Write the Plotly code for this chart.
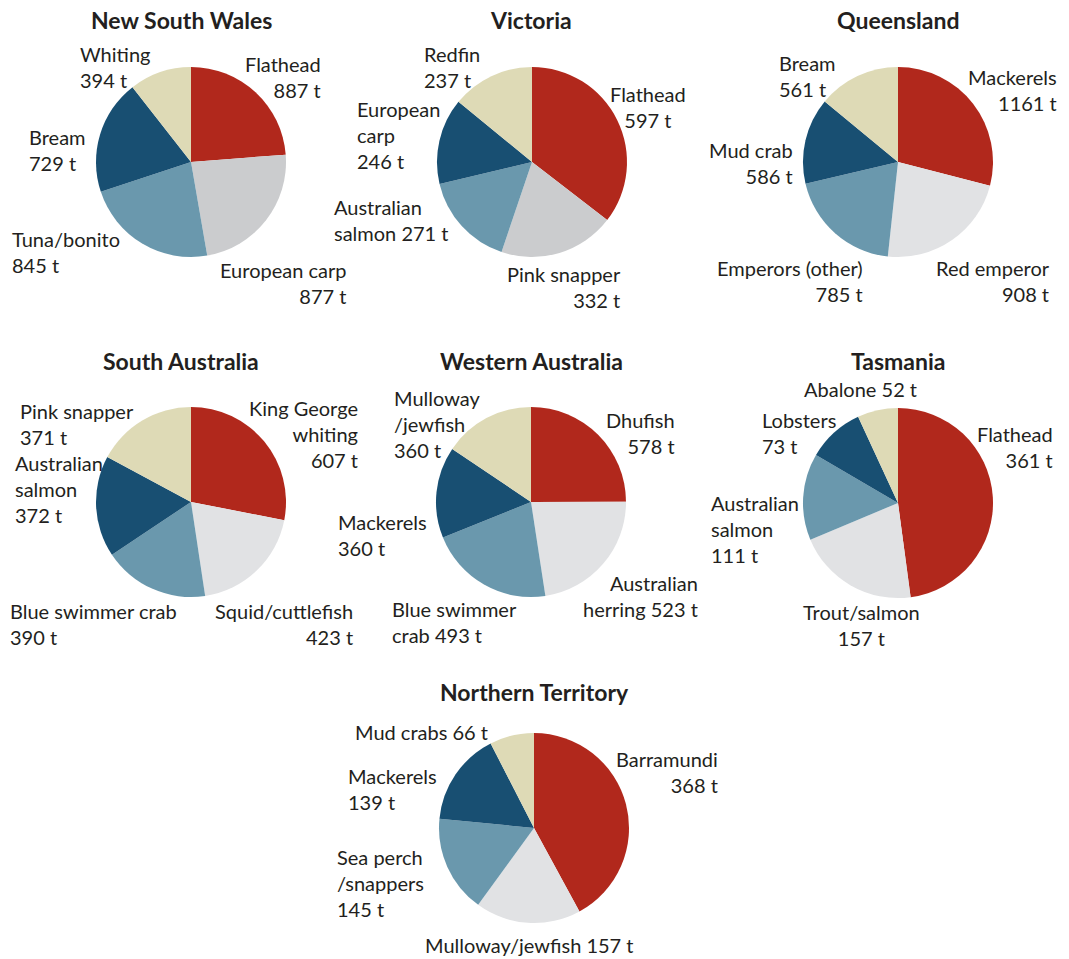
import plotly.graph_objects as go

W, H = 1069, 959

# ---------------- data ----------------
nsw_species = ["Flathead", "European carp", "Tuna/bonito", "Bream", "Whiting"]
nsw_tonnes = [887, 877, 845, 729, 394]

vic_species = ["Flathead", "Pink snapper", "Australian salmon", "European carp", "Redfin"]
vic_tonnes = [597, 332, 271, 246, 237]

qld_species = ["Mackerels", "Red emperor", "Emperors (other)", "Mud crab", "Bream"]
qld_tonnes = [1161, 908, 785, 586, 561]

sa_species = ["King George whiting", "Squid/cuttlefish", "Blue swimmer crab", "Australian salmon", "Pink snapper"]
sa_tonnes = [607, 423, 390, 372, 371]

wa_species = ["Dhufish", "Australian herring", "Blue swimmer crab", "Mackerels", "Mulloway/jewfish"]
wa_tonnes = [578, 523, 493, 360, 360]

tas_species = ["Flathead", "Trout/salmon", "Australian salmon", "Lobsters", "Abalone"]
tas_tonnes = [361, 157, 111, 73, 52]

nt_species = ["Barramundi", "Mulloway/jewfish", "Sea perch/snappers", "Mackerels", "Mud crabs"]
nt_tonnes = [368, 157, 145, 139, 66]

titles = ["New South Wales", "Victoria", "Queensland", "South Australia",
          "Western Australia", "Tasmania", "Northern Territory"]

# label display names (line-broken) and separator before value
nsw_disp = ["Flathead", "European carp", "Tuna/bonito", "Bream", "Whiting"]
nsw_sep = ["<br>"] * 5
vic_disp = ["Flathead", "Pink snapper", "Australian<br>salmon", "European<br>carp", "Redfin"]
vic_sep = ["<br>", "<br>", " ", "<br>", "<br>"]
qld_disp = ["Mackerels", "Red emperor", "Emperors (other)", "Mud crab", "Bream"]
qld_sep = ["<br>"] * 5
sa_disp = ["King George<br>whiting", "Squid/cuttlefish", "Blue swimmer crab", "Australian<br>salmon", "Pink snapper"]
sa_sep = ["<br>"] * 5
wa_disp = ["Dhufish", "Australian<br>herring", "Blue swimmer<br>crab", "Mackerels", "Mulloway<br>/jewfish"]
wa_sep = ["<br>", " ", " ", "<br>", "<br>"]
tas_disp = ["Flathead", "Trout/salmon", "Australian<br>salmon", "Lobsters", "Abalone"]
tas_sep = ["<br>", "<br>", "<br>", "<br>", " "]
nt_disp = ["Barramundi", "Mulloway/jewfish", "Sea perch<br>/snappers", "Mackerels", "Mud crabs"]
nt_sep = ["<br>", " ", "<br>", "<br>", " "]

# ---------------- layout / style ----------------
RED = "#B1281C"
GRAY_DARK = "#CBCCCE"
GRAY_LIGHT = "#E1E2E4"
STEEL = "#6A98AD"
NAVY = "#184F72"
BEIGE = "#DEDAB6"
TXT = "#231F20"
FONT = "Lato"
LABEL_SIZE = 20
TITLE_SIZE = 23

# pie centres (px) and radius
centres = [(191, 162), (532, 162), (898, 162), (191, 502), (531, 502), (898, 503), (534, 828)]
radius = 95
title_pos = [(181, 20), (531, 20), (898, 20), (181, 361), (531, 361), (898, 361), (534, 692)]
grays = [GRAY_DARK, GRAY_DARK, GRAY_LIGHT, GRAY_LIGHT, GRAY_LIGHT, GRAY_LIGHT, GRAY_LIGHT]

# label anchor per slice: (x px, y-centre px, align)
nsw_lab = [(323, 77, "right"), (348, 283, "right"), (10, 252, "left"), (27, 150, "left"), (78, 67, "left")]
vic_lab = [(648, 107, "center"), (623, 287, "right"), (332, 220, "left"), (355, 135, "left"), (422, 67, "left")]
qld_lab = [(1059, 90, "right"), (1052, 281, "right"), (865, 281, "right"), (795, 163, "right"), (777, 76, "left")]
sa_lab = [(360, 434, "right"), (355, 624, "right"), (8, 624, "left"), (13, 489, "left"), (18, 424, "left")]
wa_lab = [(677, 433, "right"), (700, 596, "right"), (390, 622, "left"), (336, 535, "left"), (392, 424, "left")]
tas_lab = [(1055, 447, "right"), (861, 625, "center"), (709, 529, "left"), (760, 433, "left"), (802, 389, "left")]
nt_lab = [(720, 772, "right"), (423, 945, "left"), (335, 883, "left"), (346, 789, "left"), (353, 732, "left")]

regions = [
    (nsw_species, nsw_tonnes, nsw_disp, nsw_sep, nsw_lab),
    (vic_species, vic_tonnes, vic_disp, vic_sep, vic_lab),
    (qld_species, qld_tonnes, qld_disp, qld_sep, qld_lab),
    (sa_species, sa_tonnes, sa_disp, sa_sep, sa_lab),
    (wa_species, wa_tonnes, wa_disp, wa_sep, wa_lab),
    (tas_species, tas_tonnes, tas_disp, tas_sep, tas_lab),
    (nt_species, nt_tonnes, nt_disp, nt_sep, nt_lab),
]


def px(x):
    return x / W


def py(y):
    return 1 - y / H


fig = go.Figure()
annotations = []

for i, (species, tonnes, disp, sep, labs) in enumerate(regions):
    cx, cy = centres[i]
    colors = [RED, grays[i], STEEL, NAVY, BEIGE]
    fig.add_trace(go.Pie(
        labels=species, values=tonnes,
        sort=False, direction="clockwise", rotation=0,
        marker=dict(colors=colors, line=dict(width=0)),
        textinfo="none", hoverinfo="label+value",
        domain=dict(x=[px(cx - radius), px(cx + radius)],
                    y=[py(cy + radius), py(cy - radius)]),
        showlegend=False,
    ))
    tx, ty = title_pos[i]
    annotations.append(dict(
        text=f"<b>{titles[i]}</b>", x=px(tx), y=py(ty),
        xref="paper", yref="paper", xanchor="center", yanchor="middle",
        showarrow=False, font=dict(family=FONT, size=TITLE_SIZE, color=TXT)))
    for d, s, v, (lx, ly, al) in zip(disp, sep, tonnes, labs):
        annotations.append(dict(
            text=f"{d}{s}{v} t", x=px(lx), y=py(ly),
            xref="paper", yref="paper", xanchor=al, yanchor="middle", align=al,
            showarrow=False, font=dict(family=FONT, size=LABEL_SIZE, color=TXT)))

fig.update_layout(
    width=W, height=H,
    margin=dict(l=0, r=0, t=0, b=0),
    paper_bgcolor="white", plot_bgcolor="white",
    annotations=annotations,
)

fig.write_html(
    "out.html",
    config={"displayModeBar": False},
    post_script="document.body.style.margin='0px';document.body.style.overflow='hidden';",
)
